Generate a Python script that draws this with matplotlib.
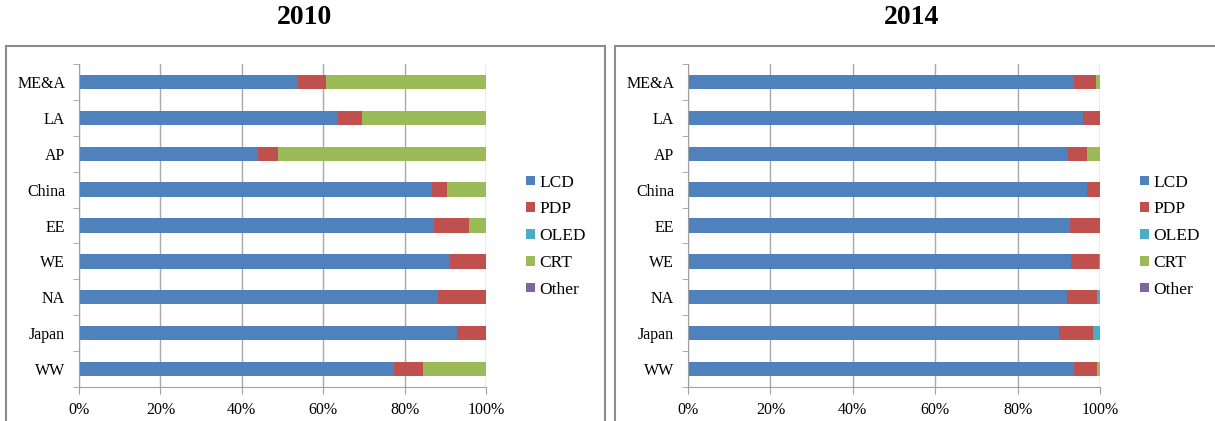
"""Display technology share by region, 2010 vs 2014 (stacked 100% bars)"""

import matplotlib
matplotlib.use('Agg')
import matplotlib.pyplot as plt
import matplotlib.patches as patches
import numpy as np

plt.rcParams['font.family'] = ['Liberation Serif', 'DejaVu Serif']

regions = ['WW', 'Japan', 'NA', 'WE', 'EE', 'China', 'AP', 'LA', 'ME&A']
techs = ['LCD', 'PDP', 'OLED', 'CRT', 'Other']
colors = ['#4f81bd', '#c0504d', '#4bacc6', '#9bbb59', '#8064a2']

# shares in percent, same order as regions (bottom to top)
lcd_2010 = [77.4, 92.9, 88.1, 91.2, 87.3, 86.7, 43.9, 63.6, 53.8]
pdp_2010 = [7.2, 7.1, 11.9, 8.8, 8.6, 3.8, 5.1, 5.9, 7.0]
oled_2010 = [0, 0, 0, 0, 0, 0, 0, 0, 0]
crt_2010 = [15.4, 0, 0, 0, 4.1, 9.5, 51.0, 30.5, 39.2]
other_2010 = [0, 0, 0, 0, 0, 0, 0, 0, 0]

lcd_2014 = [93.6, 90.1, 92.0, 93.0, 92.6, 96.9, 92.2, 95.8, 93.6]
pdp_2014 = [5.6, 8.2, 7.2, 6.8, 7.4, 3.1, 4.7, 4.2, 5.4]
oled_2014 = [0, 1.7, 0.8, 0.2, 0, 0, 0, 0, 0]
crt_2014 = [0.8, 0, 0, 0, 0, 0, 3.1, 0, 1.0]
other_2014 = [0, 0, 0, 0, 0, 0, 0, 0, 0]

W, H = 1215, 421


def draw_panel(fig, rect, title, title_x, series):
  ax = fig.add_axes(rect)
  y = np.arange(len(regions))
  left = np.zeros(len(regions))
  for vals, name, c in zip(series, techs, colors):
    vals = np.array(vals, dtype=float)
    ax.barh(y, vals, left=left, height=0.4, color=c, label=name, zorder=2)
    left += vals

  ax.set_xlim(0, 100)
  ax.set_ylim(-0.5, len(regions) - 0.5)
  ax.set_xticks(np.arange(0, 101, 20))
  ax.set_xticklabels(['%d%%' % v for v in range(0, 101, 20)])
  ax.set_yticks(y)
  ax.set_yticklabels(regions)
  ax.set_yticks(np.arange(-0.5, len(regions), 1), minor=True)
  ax.tick_params(axis='y', which='major', length=0, pad=10, labelsize=11.5)
  ax.tick_params(axis='y', which='minor', length=4, color='#a0a0a0')
  ax.tick_params(axis='x', length=5, color='#a0a0a0', labelsize=11.5, pad=6)
  ax.grid(axis='x', color='#a8a8a8', lw=1, zorder=0)
  for s in ['top', 'right']:
    ax.spines[s].set_visible(False)
  for s in ['left', 'bottom']:
    ax.spines[s].set_color('#a0a0a0')

  fig.text(title_x, 1 - 18 / H, title, ha='center', va='center', fontsize=20, fontweight='bold')

  ax.legend(loc='center left', bbox_to_anchor=(1.06, 0.467), frameon=False, fontsize=12.5,
            handlelength=0.5, handleheight=0.5, handletextpad=0.25, labelspacing=0.62)
  return ax


fig = plt.figure(figsize=(W / 100.0, H / 100.0), dpi=100)

# panel frames
fig.patches.append(patches.Rectangle((6 / W, -0.05), 599 / W, 1.05 - 46 / H, transform=fig.transFigure,
                                     fill=False, ec='#8c8c8c', lw=1.5))
fig.patches.append(patches.Rectangle((615 / W, -0.05), 610 / W, 1.05 - 46 / H, transform=fig.transFigure,
                                     fill=False, ec='#8c8c8c', lw=1.5))

draw_panel(fig, [79 / W, 1 - 387 / H, 407 / W, 323 / H], '2010', 305 / W,
           [lcd_2010, pdp_2010, oled_2010, crt_2010, other_2010])
draw_panel(fig, [688 / W, 1 - 387 / H, 412 / W, 323 / H], '2014', 912 / W,
           [lcd_2014, pdp_2014, oled_2014, crt_2014, other_2014])

plt.savefig('out.png', dpi=100)
